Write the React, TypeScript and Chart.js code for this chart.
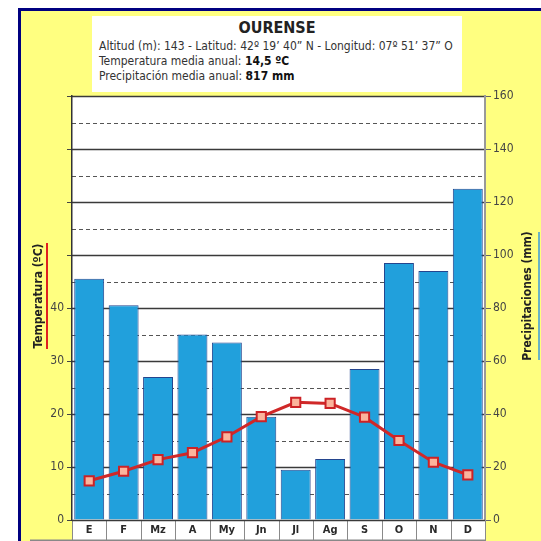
import React, { useEffect, useRef } from "react";
import { Chart, registerables } from "chart.js";

Chart.register(...registerables);

const months = ["E", "F", "Mz", "A", "My", "Jn", "Jl", "Ag", "S", "O", "N", "D"];
const precipitation = [91, 81, 54, 70, 67, 39, 19, 23, 57, 97, 94, 125];
const temperature = [7.4, 9.2, 11.4, 12.7, 15.7, 19.5, 22.2, 22.0, 19.4, 15.0, 10.9, 8.5];
const precipTicks = [0, 20, 40, 60, 80, 100, 120, 140, 160];
const tempTickMax = 40;

const FONT = "'DejaVu Sans Condensed', 'DejaVu Sans', sans-serif";

const bgPlugin = {
  id: "bgPlugin",
  beforeDraw(chart: any) {
    const { ctx, chartArea } = chart;
    const yP = chart.scales.yP;
    const x = chart.scales.x;
    ctx.save();
    ctx.fillStyle = "#ffffff";
    ctx.fillRect(chartArea.left, chartArea.top, chartArea.right - chartArea.left, chartArea.bottom - chartArea.top);
    ctx.fillRect(chartArea.left, chartArea.bottom, chartArea.right - chartArea.left, 21);
    ctx.strokeStyle = "#8a8a8a";
    ctx.lineWidth = 1;
    const step = x.getPixelForValue(1) - x.getPixelForValue(0);
    for (let i = 0; i <= months.length; i++) {
      const px = i < months.length ? x.getPixelForValue(i) - step / 2 : chartArea.right;
      ctx.beginPath();
      ctx.moveTo(Math.round(px) + 0.5, chartArea.bottom);
      ctx.lineTo(Math.round(px) + 0.5, chartArea.bottom + 21);
      ctx.stroke();
    }
    ctx.strokeStyle = "#888888";
    ctx.lineWidth = 2;
    ctx.beginPath();
    ctx.moveTo(30, chartArea.bottom + 20.5);
    ctx.lineTo(chartArea.right, chartArea.bottom + 20.5);
    ctx.stroke();
    for (let v = 10; v <= 160; v += 10) {
      const py = Math.round(yP.getPixelForValue(v)) + 0.5;
      ctx.beginPath();
      if (v % 20 === 0) {
        ctx.setLineDash([]);
        ctx.strokeStyle = "#3a3a3a";
        ctx.lineWidth = 1.3;
      } else {
        ctx.setLineDash([4, 3]);
        ctx.strokeStyle = "#555555";
        ctx.lineWidth = 1.2;
      }
      ctx.moveTo(chartArea.left, py);
      ctx.lineTo(chartArea.right, py);
      ctx.stroke();
    }
    ctx.setLineDash([]);
    ctx.restore();
  },
  afterDatasetsDraw(chart: any) {
    const { ctx, chartArea } = chart;
    ctx.save();
    ctx.strokeStyle = "#3a3a3a";
    ctx.lineWidth = 1.5;
    ctx.beginPath();
    ctx.moveTo(chartArea.left, chartArea.bottom + 0.5);
    ctx.lineTo(chartArea.right, chartArea.bottom + 0.5);
    ctx.stroke();
    ctx.restore();
  },
};

function ClimateChart() {
  const ref = useRef<HTMLCanvasElement | null>(null);
  useEffect(() => {
    if (!ref.current) return;
    const chart = new Chart(ref.current, {
      type: "bar",
      data: {
        labels: months,
        datasets: [
          {
            type: "line",
            label: "Temperatura",
            data: temperature,
            yAxisID: "yT",
            borderColor: "#d02828",
            borderWidth: 3,
            pointStyle: "rect",
            pointRadius: 6.5,
            pointBorderWidth: 2,
            pointBorderColor: "#cc2226",
            pointBackgroundColor: "#fbb49c",
            order: 0,
          } as any,
          {
            type: "bar",
            label: "Precipitaciones",
            data: precipitation,
            yAxisID: "yP",
            backgroundColor: "#21a0dc",
            borderColor: "#24458e",
            borderWidth: 1,
            barPercentage: 0.87,
            categoryPercentage: 1,
            order: 1,
          } as any,
        ],
      },
      options: {
        animation: false,
        responsive: false,
        maintainAspectRatio: false,
        layout: { padding: { left: 30, right: 0, top: 96, bottom: 0 } },
        plugins: { legend: { display: false }, tooltip: { enabled: false }, title: { display: false } },
        scales: {
          x: {
            grid: { display: false, drawTicks: false, tickLength: 0 },
            border: { display: false },
            ticks: { font: { family: FONT, size: 11, weight: "bold" }, color: "#2a2a2a", padding: 4 },
            afterFit(scale: any) { scale.height = 21; },
          },
          yT: {
            position: "left",
            min: 0,
            max: 80,
            ticks: {
              stepSize: 10,
              font: { family: FONT, size: 12 },
              color: "#444444",
              padding: 3,
              callback: (v: any) => (Number(v) <= tempTickMax ? String(v) : ""),
            },
            grid: { drawOnChartArea: false, drawTicks: true, tickLength: 5, color: "#444444" },
            border: { display: true, color: "#333333", width: 1.5 },
            afterFit(scale: any) { scale.width = 42; },
          },
          yP: {
            position: "right",
            min: 0,
            max: 160,
            afterBuildTicks(scale: any) { scale.ticks = precipTicks.map((v) => ({ value: v })); },
            ticks: { font: { family: FONT, size: 12 }, color: "#444444", padding: 2 },
            grid: { drawOnChartArea: false, drawTicks: true, tickLength: 6, color: "#666666" },
            border: { display: true, color: "#999999", width: 2 },
            afterFit(scale: any) { scale.width = 56; },
          },
        },
      } as any,
      plugins: [bgPlugin],
    });
    return () => chart.destroy();
  }, []);
  return <canvas ref={ref} width={541} height={541} style={{ position: "absolute", left: 0, top: 0, width: 541, height: 541 }} />;
}

export default function App() {
  return (
    <div style={{ position: "fixed", left: 0, top: 0, width: 541, height: 541, background: "#ffffff", overflow: "hidden", fontFamily: FONT }}>
      <div style={{ position: "absolute", left: 21, top: 11, right: 0, bottom: 0, background: "#ffff80" }} />
      <div style={{ position: "absolute", left: 18, top: 8, width: 3, bottom: 0, background: "#000080" }} />
      <div style={{ position: "absolute", left: 18, top: 8, right: 0, height: 3, background: "#000080" }} />
      <div style={{ position: "absolute", left: 92, top: 16, width: 370, height: 76, background: "#ffffff", color: "#222" }}>
        <div style={{ textAlign: "center", fontWeight: "bold", fontSize: 16, lineHeight: "19px", marginTop: 2 }}>OURENSE</div>
        <div style={{ paddingLeft: 7, paddingTop: 2, fontSize: 12, lineHeight: "15px", color: "#333" }}>
          <div>Altitud (m): 143 - Latitud: 42º 19’ 40” N - Longitud: 07º 51’ 37” O</div>
          <div>Temperatura media anual: <b style={{ color: "#111" }}>14,5 ºC</b></div>
          <div>Precipitación media anual: <b style={{ color: "#111" }}>817 mm</b></div>
        </div>
      </div>
      <ClimateChart />
      <div style={{ position: "absolute", left: 38, top: 296, transform: "translate(-50%, -50%) rotate(-90deg)", whiteSpace: "nowrap", fontWeight: "bold", fontSize: 12, color: "#222" }}>Temperatura (ºC)</div>
      <div style={{ position: "absolute", left: 46, top: 243, width: 2, height: 106, background: "#e02020" }} />
      <div style={{ position: "absolute", left: 527, top: 296, transform: "translate(-50%, -50%) rotate(-90deg)", whiteSpace: "nowrap", fontWeight: "bold", fontSize: 12, color: "#222" }}>Precipitaciones (mm)</div>
      <div style={{ position: "absolute", left: 538, top: 232, width: 2, height: 128, background: "#6ab4c4" }} />
    </div>
  );
}
